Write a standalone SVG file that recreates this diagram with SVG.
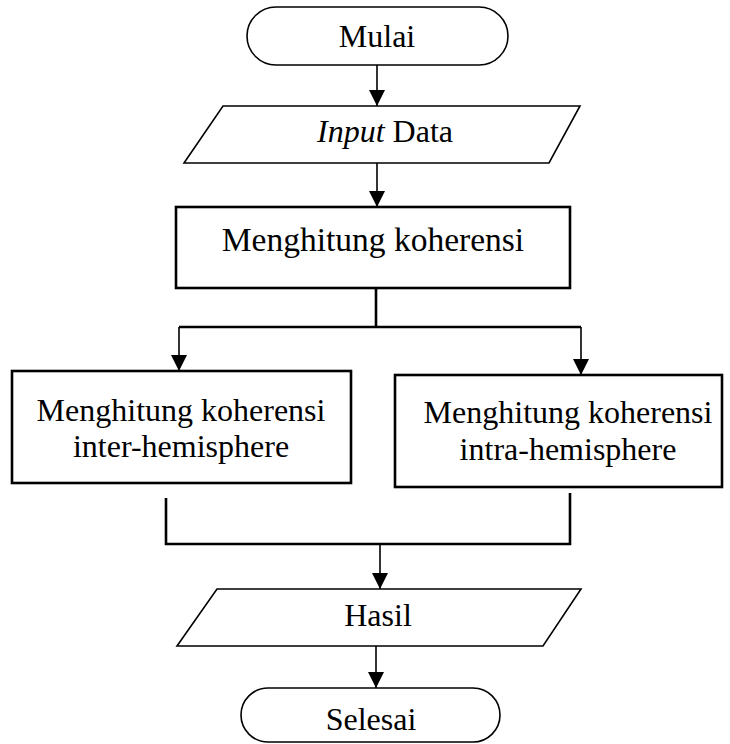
<svg xmlns="http://www.w3.org/2000/svg" width="730" height="744" viewBox="0 0 730 744">
<style>
.t{font-family:"Liberation Serif","Times New Roman",serif;font-size:32px;fill:#000;text-anchor:middle}
.s{fill:#fff;stroke:#000;stroke-width:1.6}
.b{fill:#fff;stroke:#000;stroke-width:2.6}
.c{fill:none;stroke:#000;stroke-width:1.6}
.j{fill:none;stroke:#000;stroke-width:2.6}
</style>
<defs>
<marker id="ah" markerUnits="userSpaceOnUse" markerWidth="16" markerHeight="16" viewBox="0 0 16 16" refX="16" refY="8" orient="auto">
<path d="M0,0 L16,8 L0,16 Z" fill="#000"/>
</marker>
</defs>
<rect width="730" height="744" fill="#fff"/>
<g id="connectors">
<line class="c" x1="377" y1="65" x2="377" y2="106" marker-end="url(#ah)"/>
<line class="c" x1="377" y1="163" x2="377" y2="207" marker-end="url(#ah)"/>
<polyline class="j" points="376,284 376,327"/>
<polyline class="j" points="179,327 581,327"/>
<line class="c" x1="179" y1="327" x2="179" y2="371" marker-end="url(#ah)"/>
<line class="c" x1="581" y1="327" x2="581" y2="375" marker-end="url(#ah)"/>
<polyline class="j" points="166,498 166,544 570,544 570,493"/>
<line class="c" x1="380" y1="544" x2="380" y2="589" marker-end="url(#ah)"/>
<line class="c" x1="376" y1="646" x2="376" y2="688" marker-end="url(#ah)"/>
</g>
<g id="mulai">
<rect class="s" x="247" y="7" width="261" height="58" rx="29"/>
<text class="t" x="377" y="47">Mulai</text>
</g>
<g id="input">
<polygon class="s" points="223,106 580,106 549,163 184,163"/>
<text class="t" x="385" y="142"><tspan font-style="italic">Input</tspan> Data</text>
</g>
<g id="koherensi">
<rect class="b" x="176" y="207" width="394" height="81"/>
<text class="t" x="373" y="251" style="font-size:33.5px">Menghitung koherensi</text>
</g>
<g id="inter">
<rect class="b" x="12" y="371" width="339" height="112"/>
<text class="t" x="181" y="421">Menghitung koherensi</text>
<text class="t" x="181" y="457">inter-hemisphere</text>
</g>
<g id="intra">
<rect class="b" x="395" y="375" width="327" height="112"/>
<text class="t" x="568" y="423">Menghitung koherensi</text>
<text class="t" x="568" y="460">intra-hemisphere</text>
</g>
<g id="hasil">
<polygon class="s" points="217,589 581,589 543,646 177,646"/>
<text class="t" x="378" y="626">Hasil</text>
</g>
<g id="selesai">
<rect class="s" x="241" y="688" width="259" height="54" rx="27"/>
<text class="t" x="371" y="730">Selesai</text>
</g>
</svg>
